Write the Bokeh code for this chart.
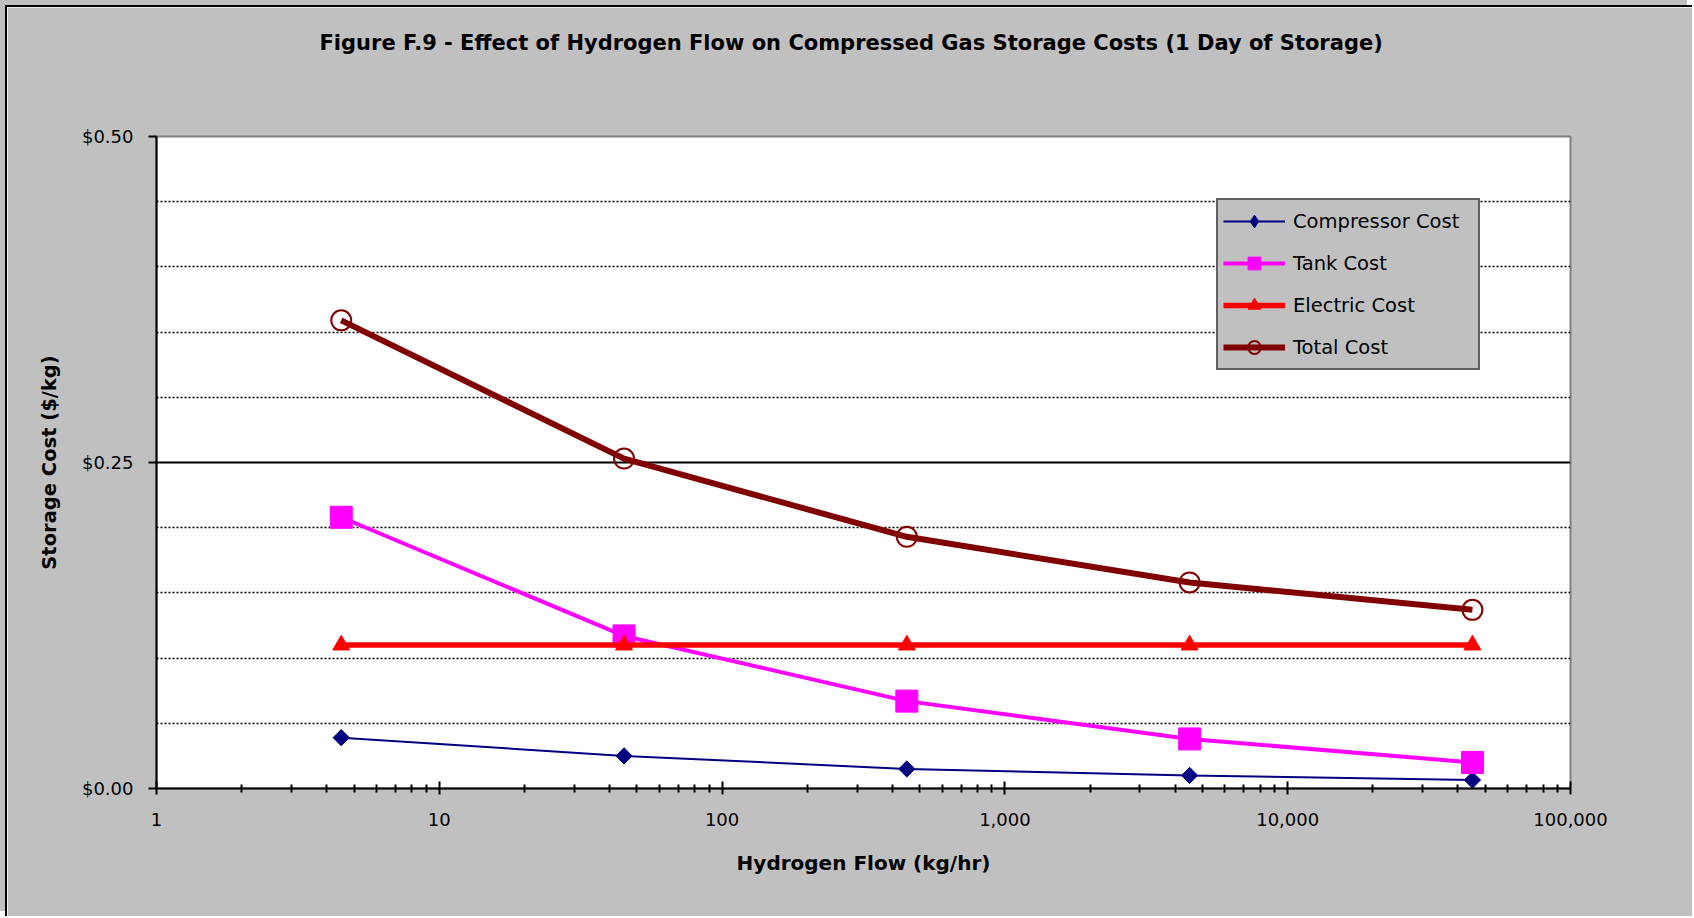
from math import pi
from bokeh.plotting import figure
from bokeh.models import FixedTicker, Legend, LegendItem, Range1d, Title
from bokeh.embed import file_html
from bokeh.resources import INLINE

# ---- data ----
flow = [4.5, 45, 450, 4500, 45000]                      # kg/hr
compressor_cost = [0.039, 0.025, 0.015, 0.010, 0.0065]  # $/kg
tank_cost = [0.208, 0.117, 0.067, 0.038, 0.020]
electric_cost = [0.110, 0.110, 0.110, 0.110, 0.110]
total_cost = [0.359, 0.253, 0.193, 0.158, 0.137]

x_major_ticks = [1, 10, 100, 1000, 10000, 100000]
x_tick_labels = ["1", "10", "100", "1,000", "10,000", "100,000"]
x_minor_ticks = [m * d for d in [1, 10, 100, 1000, 10000] for m in range(2, 10)]
y_major_ticks = [0, 0.25, 0.5]
y_tick_labels = ["$0.00", "$0.25", "$0.50"]
y_solid_grid = [0.25]
y_dotted_grid = [0.05, 0.10, 0.15, 0.20, 0.30, 0.35, 0.40, 0.45]

series_names = ["Compressor Cost", "Tank Cost", "Electric Cost", "Total Cost"]
chart_title = "Figure F.9 - Effect of Hydrogen Flow on Compressed Gas Storage Costs (1 Day of Storage)"

FONT = "DejaVu Sans"

p = figure(width=1687, height=911, x_axis_type="log", title=None,
           x_range=Range1d(1, 100000), y_range=Range1d(0, 0.5),
           output_backend="svg", toolbar_location=None,
           min_border_left=149, min_border_right=124,
           min_border_top=129, min_border_bottom=130,
           background_fill_color="white", border_fill_color="#C0C0C0")
p.styles = {"margin-left": "5px", "margin-top": "5px",
            "border-left": "2px solid black", "border-top": "2px solid black",
            "box-shadow": "-5px -5px 0 0 #C0C0C0"}

p.outline_line_color = "#808080"
p.outline_line_width = 2

# title (a blank spacer panel keeps it up near the top edge)
spacer = Title(text=" ", text_font_size="10px", standoff=69)
main_title = Title(text=chart_title, text_font=FONT, text_font_size="21px",
                   text_font_style="bold", text_color="black",
                   align="left", offset=163, vertical_align="bottom", standoff=0)
p.add_layout(spacer, "above")
p.add_layout(main_title, "above")

# x axis
xa = p.xaxis[0]
xa.ticker = FixedTicker(ticks=x_major_ticks, minor_ticks=x_minor_ticks)
xa.major_label_overrides = {t: l for t, l in zip(x_major_ticks, x_tick_labels)}
xa.axis_line_color = "black"
xa.axis_line_width = 2
xa.major_tick_line_color = "black"
xa.major_tick_line_width = 2
xa.minor_tick_line_color = "black"
xa.minor_tick_line_width = 2
xa.major_tick_in = 7
xa.major_tick_out = 6
xa.minor_tick_in = 4
xa.minor_tick_out = 4
xa.major_label_text_font = FONT
xa.major_label_text_font_size = "18px"
xa.major_label_text_color = "black"
xa.major_label_standoff = 18
xa.axis_label = "Hydrogen Flow (kg/hr)"
xa.axis_label_text_font = FONT
xa.axis_label_text_font_size = "20px"
xa.axis_label_text_font_style = "bold"
xa.axis_label_text_color = "black"
xa.axis_label_standoff = 22

# y axis
ya = p.yaxis[0]
ya.ticker = FixedTicker(ticks=y_major_ticks, minor_ticks=[])
ya.major_label_overrides = {t: l for t, l in zip(y_major_ticks, y_tick_labels)}
ya.axis_line_color = "black"
ya.axis_line_width = 2
ya.major_tick_line_color = "black"
ya.major_tick_line_width = 2
ya.major_tick_in = 0
ya.major_tick_out = 8
ya.minor_tick_in = 0
ya.minor_tick_out = 0
ya.major_label_text_font = FONT
ya.major_label_text_font_size = "18px"
ya.major_label_text_color = "black"
ya.major_label_standoff = 15
ya.axis_label = "Storage Cost ($/kg)"
ya.axis_label_text_font = FONT
ya.axis_label_text_font_size = "19.5px"
ya.axis_label_text_font_style = "bold"
ya.axis_label_text_color = "black"
ya.axis_label_standoff = 18

# grid
p.xgrid.visible = False
p.ygrid.ticker = FixedTicker(ticks=y_solid_grid, minor_ticks=y_dotted_grid)
p.ygrid.grid_line_color = "black"
p.ygrid.grid_line_width = 2
p.ygrid.minor_grid_line_color = "black"
p.ygrid.minor_grid_line_width = 1.5
p.ygrid.minor_grid_line_dash = "2 2"

# series
comp_l = p.line(flow, compressor_cost, line_color="#000080", line_width=2)
comp_d = p.scatter(flow, compressor_cost, marker="diamond", size=15,
                   fill_color="#000080", line_color="#000080")
comp_m = p.scatter(flow, compressor_cost, marker="square", angle=pi / 4, size=11.5,
                   fill_color="#000080", line_color="#000080")
tank_l = p.line(flow, tank_cost, line_color="#FF00FF", line_width=4)
tank_m = p.scatter(flow, tank_cost, marker="square", size=22,
                   fill_color="#FF00FF", line_color="#FF00FF")
elec_l = p.line(flow, electric_cost, line_color="#FF0000", line_width=5.5)
elec_m = p.scatter(flow, electric_cost, marker="triangle", size=17,
                   fill_color="#FF0000", line_color="#FF0000")
tot_l = p.line(flow, total_cost, line_color="#800000", line_width=6)
tot_m = p.scatter(flow, total_cost, marker="circle", size=20, fill_color=None,
                  line_color="#800000", line_width=2)

legend = Legend(items=[
    LegendItem(label=series_names[0], renderers=[comp_l, comp_d]),
    LegendItem(label=series_names[1], renderers=[tank_l, tank_m]),
    LegendItem(label=series_names[2], renderers=[elec_l, elec_m]),
    LegendItem(label=series_names[3], renderers=[tot_l, tot_m]),
], location=(1060, 418))
legend.border_line_color = "black"
legend.border_line_width = 2
legend.background_fill_color = "#C0C0C0"
legend.background_fill_alpha = 1
legend.label_text_font = FONT
legend.label_text_font_size = "19.5px"
legend.label_text_color = "black"
legend.glyph_width = 62
legend.glyph_height = 32
legend.label_height = 32
legend.label_width = 180
legend.label_standoff = 8
legend.spacing = 10
legend.padding = 5
legend.margin = 0
p.add_layout(legend)

open("out.html", "w").write(file_html(p, INLINE))
